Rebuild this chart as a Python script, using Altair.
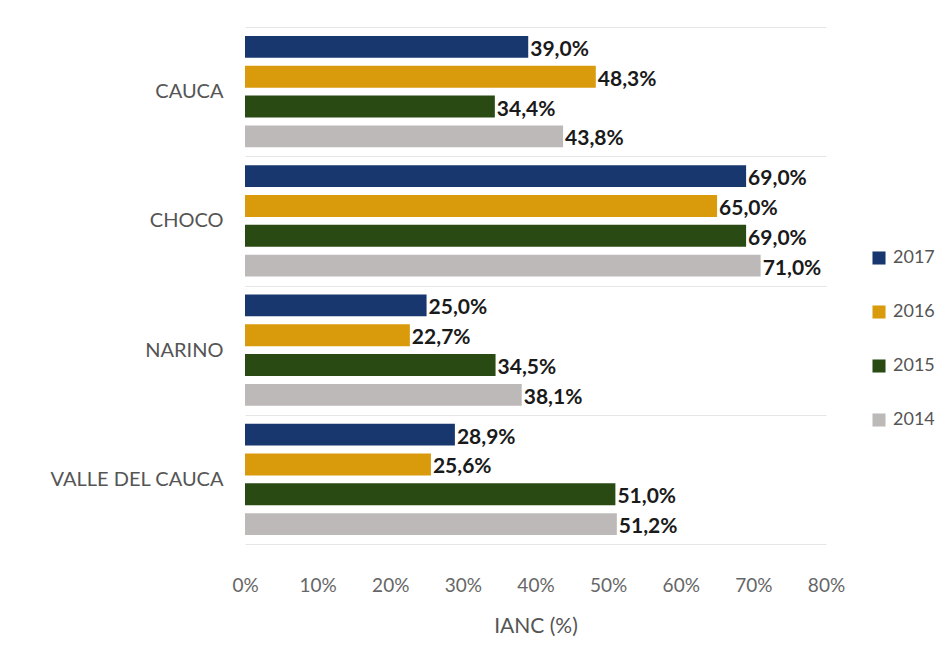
import altair as alt
import pandas as pd

regions = ["CAUCA", "CHOCO", "NARINO", "VALLE DEL CAUCA"]
years = ["2017", "2016", "2015", "2014"]
colors = ["#17376E", "#D99A0B", "#294A12", "#BEB9B9"]

v2017 = [39.0, 69.0, 25.0, 28.9]
v2016 = [48.3, 65.0, 22.7, 25.6]
v2015 = [34.4, 69.0, 34.5, 51.0]
v2014 = [43.8, 71.0, 38.1, 51.2]

series = {"2017": v2017, "2016": v2016, "2015": v2015, "2014": v2014}
rows = []
for y in years:
    for r, v in zip(regions, series[y]):
        rows.append({"region": r, "year": y, "value": v,
                     "label": f"{v:.1f}%".replace(".", ",")})
df = pd.DataFrame(rows)

FONT = "Lato"

yenc = alt.Y("region:N", sort=regions, title=None,
             scale=alt.Scale(paddingInner=0, paddingOuter=0),
             axis=alt.Axis(grid=True, tickBand="extent", gridColor="#E6E6E6",
                           gridWidth=1, ticks=False, domain=False,
                           labelFontSize=20, labelColor="#555555", labelFont=FONT,
                           labelPadding=22))
yoff = alt.YOffset("year:N", sort=years,
                   scale=alt.Scale(paddingInner=0.267, paddingOuter=0.3))
xenc = alt.X("value:Q", title="IANC (%)",
             scale=alt.Scale(domain=[0, 80], nice=False),
             axis=alt.Axis(values=[0, 10, 20, 30, 40, 50, 60, 70, 80],
                           labelExpr="datum.value + '%'", grid=False, ticks=False,
                           domain=False, labelFlush=False, labelFontSize=19,
                           labelColor="#666666", labelFont=FONT, labelPadding=32,
                           titleFont=FONT, titleFontSize=21, titleColor="#555555",
                           titleFontWeight="normal", titlePadding=20))

bars = alt.Chart(df).mark_bar(cornerRadius=0).encode(
    x=xenc, y=yenc, yOffset=yoff,
    color=alt.Color("year:N", sort=years,
                    scale=alt.Scale(domain=years, range=colors),
                    legend=alt.Legend(title=None, orient="none", legendX=625,
                                      legendY=222, symbolType="square",
                                      symbolSize=170, symbolStrokeWidth=0,
                                      labelFontSize=18, labelFont=FONT,
                                      labelColor="#555555", rowPadding=36,
                                      labelOffset=5))
)

text = alt.Chart(df).mark_text(align="left", baseline="middle", dx=2, dy=3,
                               fontSize=21, fontWeight="bold", font=FONT,
                               color="#1A1A1A").encode(
    x="value:Q", y=alt.Y("region:N", sort=regions), yOffset=alt.YOffset("year:N", sort=years),
    text="label:N"
)

chart = (bars + text).properties(
    width=581, height=517,
    autosize=alt.AutoSizeParams(type="none"),
    padding={"left": 237, "top": 19, "right": 113, "bottom": 93},
).configure_view(stroke=None)

chart.save("out.html", embed_options={"renderer": "svg", "actions": False})
